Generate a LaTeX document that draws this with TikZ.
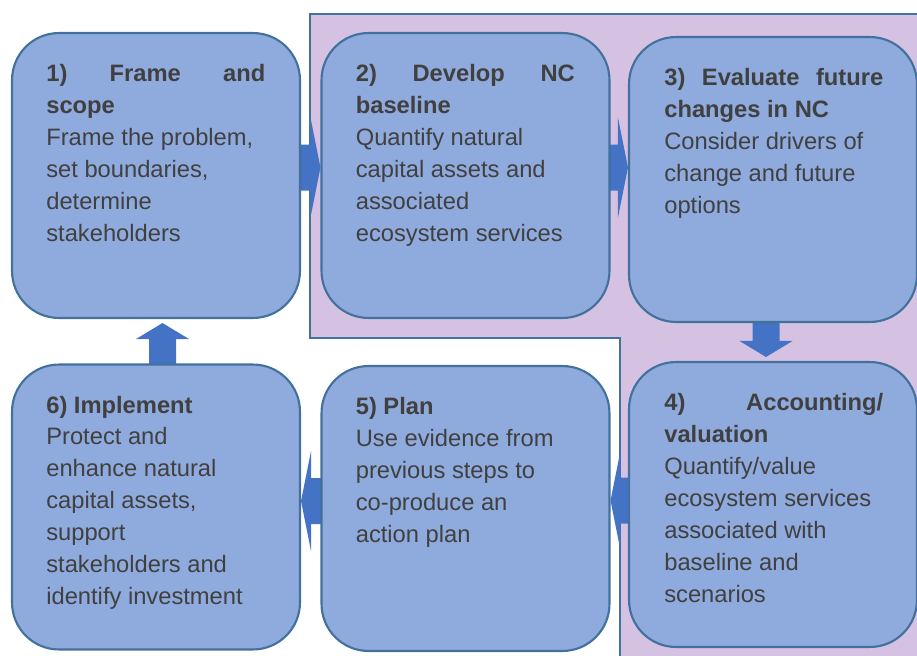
\documentclass[tikz,border=0pt]{standalone}
\usepackage{fontspec}
\setmainfont{Liberation Sans}
\usetikzlibrary{calc,backgrounds}
\definecolor{stagefill}{HTML}{8FAADC}
\definecolor{stageedge}{HTML}{41719C}
\definecolor{zonefill}{HTML}{D5C2E2}
\definecolor{arrowblue}{HTML}{4472C4}
\definecolor{bodytext}{HTML}{404040}

\begin{document}
\begin{tikzpicture}[x=0.02cm, y=-0.02cm,
  stage/.style={draw=stageedge, line width=1.2pt, fill=stagefill, rounded corners=0.94cm,
    minimum width=5.76cm, minimum height=5.7cm, inner sep=0pt},
  stagetext/.style={anchor=north west, inner sep=0pt, text width=4.38cm, align=justify,
    text=bodytext, font=\fontsize{13.5}{18.2}\selectfont},
  flowarrow/.style={fill=arrowblue}]
 \useasboundingbox (0,0) rectangle (917,656);

 % the six stages
 \node[stage] (s1) at (156,175.5) {};
 \node[stage] (s2) at (465.5,175.5) {};
 \node[stage] (s3) at (773,179.5) {};
 \node[stage] (s4) at (773,504.5) {};
 \node[stage] (s5) at (465.5,508.5) {};
 \node[stage] (s6) at (156,507) {};

 \node[stagetext] (t1) at ([shift={(35,32)}]s1.north west)
  {{\bfseries 1) Frame and\linebreak scope\par}\raggedright
   Frame the problem,\\ set boundaries,\\ determine\\ stakeholders};
 \node[stagetext] (t2) at ([shift={(35,32)}]s2.north west)
  {{\bfseries 2) Develop NC\linebreak baseline\par}\raggedright
   Quantify natural\\ capital assets and\\ associated\\ ecosystem services};
 \node[stagetext] (t3) at ([shift={(36,32)}]s3.north west)
  {{\bfseries 3) Evaluate future\linebreak changes in NC\par}\raggedright
   Consider drivers of\\ change and future\\ options};
 \node[stagetext] (t4) at ([shift={(36,32)}]s4.north west)
  {{\bfseries 4) Accounting/\linebreak valuation\par}\raggedright
   Quantify/value\\ ecosystem services\\ associated with\\ baseline and\\ scenarios};
 \node[stagetext] (t5) at ([shift={(35,32)}]s5.north west)
  {{\bfseries 5) Plan\par}\raggedright
   Use evidence from\\ previous steps to\\ co-produce an\\ action plan};
 \node[stagetext] (t6) at ([shift={(35,32)}]s6.north west)
  {{\bfseries 6) Implement\par}\raggedright
   Protect and\\ enhance natural\\ capital assets,\\ support\\ stakeholders and\\ identify investment};

 \begin{pgfonlayer}{background}
  % shaded zone behind stages 2 to 4
  \fill[zonefill] (310,14) -- (917,14) -- (917,656) -- (620,656) -- (620,338) -- (310,338) -- cycle;
  \draw[stageedge, line width=0.9pt] (917,14) -- (310,14) -- (310,338) -- (620,338) -- (620,656);

  % block arrows between the stages
  \begin{scope}[shift={($(s2.west)+(0,-8)$)}]
   \fill[flowarrow] (-26,-23) -- (-10,-23) -- (-10,-50) -- (0,0) -- (-10,50) -- (-10,23) -- (-26,23) -- cycle;
  \end{scope}
  \begin{scope}[shift={($(s3.west)+(0,-12)$)}]
   \fill[flowarrow] (-26,-23) -- (-10,-23) -- (-10,-50) -- (0,0) -- (-10,50) -- (-10,23) -- (-26,23) -- cycle;
  \end{scope}
  \begin{scope}[shift={($(s4.north)+(-7,-4)$)}]
   \fill[flowarrow] (-13.5,-40) -- (-13.5,-16) -- (-26.5,-16) -- (0,0) -- (26.5,-16) -- (13.5,-16) -- (13.5,-40) -- cycle;
  \end{scope}
  \begin{scope}[shift={($(s5.east)+(0,-8)$)}]
   \fill[flowarrow] (26,-23) -- (10,-23) -- (10,-50) -- (0,0) -- (10,50) -- (10,23) -- (26,23) -- cycle;
  \end{scope}
  \begin{scope}[shift={($(s6.east)+(0,-6)$)}]
   \fill[flowarrow] (26,-23) -- (10,-23) -- (10,-50) -- (0,0) -- (10,50) -- (10,23) -- (26,23) -- cycle;
  \end{scope}
  \begin{scope}[shift={($(s1.south)+(6.5,4)$)}]
   \fill[flowarrow] (-13.5,48) -- (-13.5,16) -- (-26.5,16) -- (0,0) -- (26.5,16) -- (13.5,16) -- (13.5,48) -- cycle;
  \end{scope}
 \end{pgfonlayer}
\end{tikzpicture}
\end{document}
